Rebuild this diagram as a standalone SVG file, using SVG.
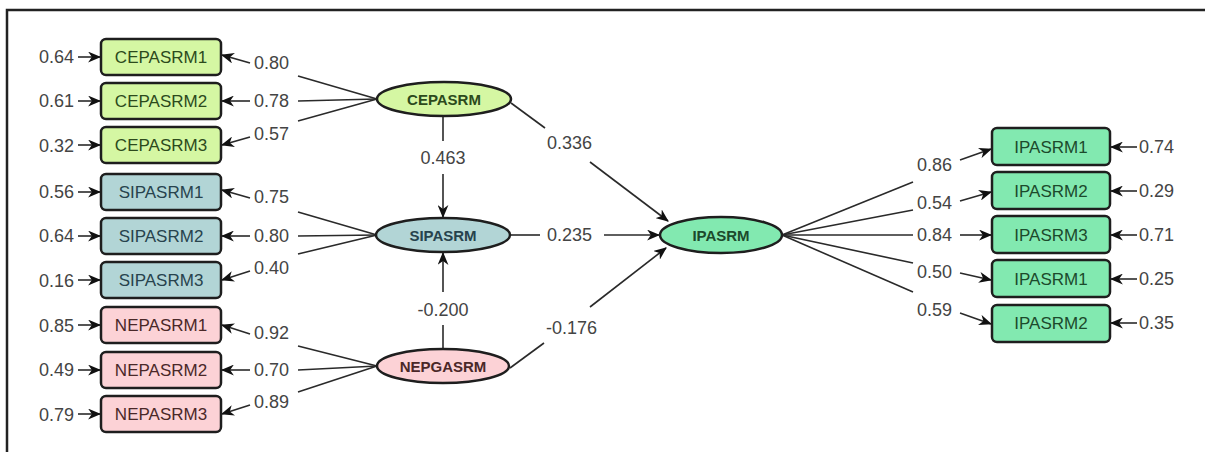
<svg xmlns="http://www.w3.org/2000/svg" width="1205" height="452" viewBox="0 0 1205 452">
<defs>
<marker id="ah" viewBox="0 0 12 10" refX="11" refY="5" markerWidth="13" markerHeight="11" orient="auto" markerUnits="userSpaceOnUse"><path d="M0,0 L12,5 L0,10 L3.5,5 z" fill="#111"/></marker>
<style>
.num{font-family:"Liberation Sans",Arial,sans-serif;font-size:18px;fill:#444;dominant-baseline:central}
.bx{stroke:#1e1e1e;stroke-width:2.5}
.bt{font-family:"Liberation Sans",Arial,sans-serif;font-size:17px;text-anchor:middle;dominant-baseline:central}
.lt{font-family:"Liberation Sans",Arial,sans-serif;font-size:15px;font-weight:bold;text-anchor:middle;dominant-baseline:central}
.ln{stroke:#2a2a2a;stroke-width:1.6;fill:none}
.ar{stroke:#2a2a2a;stroke-width:1.6;fill:none;marker-end:url(#ah)}
.ce{fill:#d5f7a3}.si{fill:#b2d5d6}.ne{fill:#fcd2d6}.ip{fill:#82e9b0}
.cet{fill:#2c4a1c}.sit{fill:#27434d}.net{fill:#4a2828}.ipt{fill:#1c4a2c}
</style>
</defs>
<rect width="1205" height="452" fill="#fff"/>
<path d="M7,452 V10 H1205" fill="none" stroke="#222" stroke-width="2.5"/>

<g id="connectors">
<line class="ar" x1="78" y1="57" x2="100" y2="57"/>
<line class="ar" x1="78" y1="101" x2="100" y2="101"/>
<line class="ar" x1="78" y1="145" x2="100" y2="145"/>
<line class="ar" x1="78" y1="192" x2="100" y2="192"/>
<line class="ar" x1="78" y1="236" x2="100" y2="236"/>
<line class="ar" x1="78" y1="280" x2="100" y2="280"/>
<line class="ar" x1="78" y1="325" x2="100" y2="325"/>
<line class="ar" x1="78" y1="370" x2="100" y2="370"/>
<line class="ar" x1="78" y1="414" x2="100" y2="414"/>
<line class="ln" x1="377" y1="99" x2="298" y2="76"/>
<line class="ln" x1="377" y1="99" x2="298" y2="101"/>
<line class="ln" x1="377" y1="99" x2="298" y2="121"/>
<line class="ar" x1="250" y1="63" x2="222" y2="55"/>
<line class="ar" x1="250" y1="101" x2="222" y2="101"/>
<line class="ar" x1="250" y1="137" x2="222" y2="145"/>
<line class="ln" x1="377" y1="235" x2="298" y2="212"/>
<line class="ln" x1="377" y1="235" x2="298" y2="236"/>
<line class="ln" x1="377" y1="235" x2="298" y2="254"/>
<line class="ar" x1="250" y1="198" x2="222" y2="190"/>
<line class="ar" x1="250" y1="236" x2="222" y2="236"/>
<line class="ar" x1="250" y1="271" x2="222" y2="280"/>
<line class="ln" x1="377" y1="366" x2="298" y2="346"/>
<line class="ln" x1="377" y1="366" x2="298" y2="370"/>
<line class="ln" x1="377" y1="366" x2="298" y2="392"/>
<line class="ar" x1="250" y1="334" x2="222" y2="325"/>
<line class="ar" x1="250" y1="370" x2="222" y2="370"/>
<line class="ar" x1="250" y1="405" x2="222" y2="414"/>
<line class="ln" x1="443" y1="117" x2="443" y2="141"/>
<line class="ar" x1="443" y1="174" x2="443" y2="217"/>
<line class="ln" x1="443" y1="349" x2="443" y2="325"/>
<line class="ar" x1="443" y1="292" x2="443" y2="253"/>
<line class="ln" x1="511" y1="103" x2="545" y2="128"/>
<line class="ar" x1="590" y1="162" x2="668" y2="221"/>
<line class="ln" x1="510" y1="235" x2="540" y2="235"/>
<line class="ar" x1="604" y1="235" x2="659" y2="235"/>
<line class="ln" x1="510" y1="368" x2="544" y2="343"/>
<line class="ar" x1="590" y1="307" x2="666" y2="248"/>
<line class="ln" x1="782" y1="235" x2="913" y2="182"/>
<line class="ln" x1="782" y1="235" x2="913" y2="210"/>
<line class="ln" x1="782" y1="235" x2="913" y2="235"/>
<line class="ln" x1="782" y1="235" x2="913" y2="263"/>
<line class="ln" x1="782" y1="235" x2="913" y2="292"/>
<line class="ar" x1="960" y1="160" x2="991" y2="149"/>
<line class="ar" x1="960" y1="201" x2="991" y2="192"/>
<line class="ar" x1="960" y1="235" x2="991" y2="235"/>
<line class="ar" x1="960" y1="273" x2="991" y2="280"/>
<line class="ar" x1="960" y1="313" x2="991" y2="324"/>
<line class="ar" x1="1137" y1="147" x2="1111" y2="147"/>
<line class="ar" x1="1137" y1="191" x2="1111" y2="191"/>
<line class="ar" x1="1137" y1="235" x2="1111" y2="235"/>
<line class="ar" x1="1137" y1="279" x2="1111" y2="279"/>
<line class="ar" x1="1137" y1="323" x2="1111" y2="323"/>
</g>

<g id="labels">
<text class="num" x="74" y="57" text-anchor="end">0.64</text>
<text class="num" x="74" y="101" text-anchor="end">0.61</text>
<text class="num" x="74" y="146" text-anchor="end">0.32</text>
<text class="num" x="74" y="192" text-anchor="end">0.56</text>
<text class="num" x="74" y="236" text-anchor="end">0.64</text>
<text class="num" x="74" y="281" text-anchor="end">0.16</text>
<text class="num" x="74" y="326" text-anchor="end">0.85</text>
<text class="num" x="74" y="370" text-anchor="end">0.49</text>
<text class="num" x="74" y="415" text-anchor="end">0.79</text>
<text class="num" x="254" y="63">0.80</text>
<text class="num" x="254" y="101">0.78</text>
<text class="num" x="254" y="134">0.57</text>
<text class="num" x="254" y="197">0.75</text>
<text class="num" x="254" y="236">0.80</text>
<text class="num" x="254" y="268">0.40</text>
<text class="num" x="254" y="333">0.92</text>
<text class="num" x="254" y="370">0.70</text>
<text class="num" x="254" y="402">0.89</text>
<text class="num" x="443" y="158" text-anchor="middle">0.463</text>
<text class="num" x="443" y="310" text-anchor="middle">-0.200</text>
<text class="num" x="547" y="143">0.336</text>
<text class="num" x="547" y="235">0.235</text>
<text class="num" x="546" y="328">-0.176</text>
<text class="num" x="917" y="165">0.86</text>
<text class="num" x="917" y="203">0.54</text>
<text class="num" x="917" y="235">0.84</text>
<text class="num" x="917" y="272">0.50</text>
<text class="num" x="917" y="310">0.59</text>
<text class="num" x="1139" y="147">0.74</text>
<text class="num" x="1139" y="191">0.29</text>
<text class="num" x="1139" y="235">0.71</text>
<text class="num" x="1139" y="279">0.25</text>
<text class="num" x="1139" y="323">0.35</text>
</g>

<g id="CEPASRM1"><rect class="bx ce" x="101" y="39" width="120" height="36" rx="5"/><text class="bt cet" x="161" y="57">CEPASRM1</text></g>
<g id="CEPASRM2"><rect class="bx ce" x="101" y="83" width="120" height="36" rx="5"/><text class="bt cet" x="161" y="101">CEPASRM2</text></g>
<g id="CEPASRM3"><rect class="bx ce" x="101" y="127" width="120" height="36" rx="5"/><text class="bt cet" x="161" y="145">CEPASRM3</text></g>
<g id="SIPASRM1"><rect class="bx si" x="101" y="174" width="120" height="36" rx="5"/><text class="bt sit" x="161" y="192">SIPASRM1</text></g>
<g id="SIPASRM2"><rect class="bx si" x="101" y="218" width="120" height="36" rx="5"/><text class="bt sit" x="161" y="236">SIPASRM2</text></g>
<g id="SIPASRM3"><rect class="bx si" x="101" y="262" width="120" height="36" rx="5"/><text class="bt sit" x="161" y="280">SIPASRM3</text></g>
<g id="NEPASRM1"><rect class="bx ne" x="101" y="307" width="120" height="36" rx="5"/><text class="bt net" x="161" y="325">NEPASRM1</text></g>
<g id="NEPASRM2"><rect class="bx ne" x="101" y="352" width="120" height="36" rx="5"/><text class="bt net" x="161" y="370">NEPASRM2</text></g>
<g id="NEPASRM3"><rect class="bx ne" x="101" y="396" width="120" height="36" rx="5"/><text class="bt net" x="161" y="414">NEPASRM3</text></g>

<g id="CEPASRM"><ellipse class="bx ce" cx="444" cy="99" rx="67" ry="17"/><text class="lt cet" x="444" y="99">CEPASRM</text></g>
<g id="SIPASRM"><ellipse class="bx si" cx="443" cy="235" rx="67" ry="17"/><text class="lt sit" x="443" y="235">SIPASRM</text></g>
<g id="NEPGASRM"><ellipse class="bx ne" cx="443" cy="366" rx="66" ry="17"/><text class="lt net" x="443" y="366">NEPGASRM</text></g>
<g id="IPASRM"><ellipse class="bx ip" cx="721" cy="235" rx="61" ry="18"/><text class="lt ipt" x="721" y="235">IPASRM</text></g>

<g id="IPASRM1a"><rect class="bx ip" x="992" y="128" width="118" height="37" rx="5"/><text class="bt ipt" x="1051" y="147">IPASRM1</text></g>
<g id="IPASRM2a"><rect class="bx ip" x="992" y="172" width="118" height="37" rx="5"/><text class="bt ipt" x="1051" y="191">IPASRM2</text></g>
<g id="IPASRM3"><rect class="bx ip" x="992" y="216" width="118" height="37" rx="5"/><text class="bt ipt" x="1051" y="235">IPASRM3</text></g>
<g id="IPASRM1b"><rect class="bx ip" x="992" y="260" width="118" height="37" rx="5"/><text class="bt ipt" x="1051" y="279">IPASRM1</text></g>
<g id="IPASRM2b"><rect class="bx ip" x="992" y="305" width="118" height="37" rx="5"/><text class="bt ipt" x="1051" y="323">IPASRM2</text></g>
</svg>
